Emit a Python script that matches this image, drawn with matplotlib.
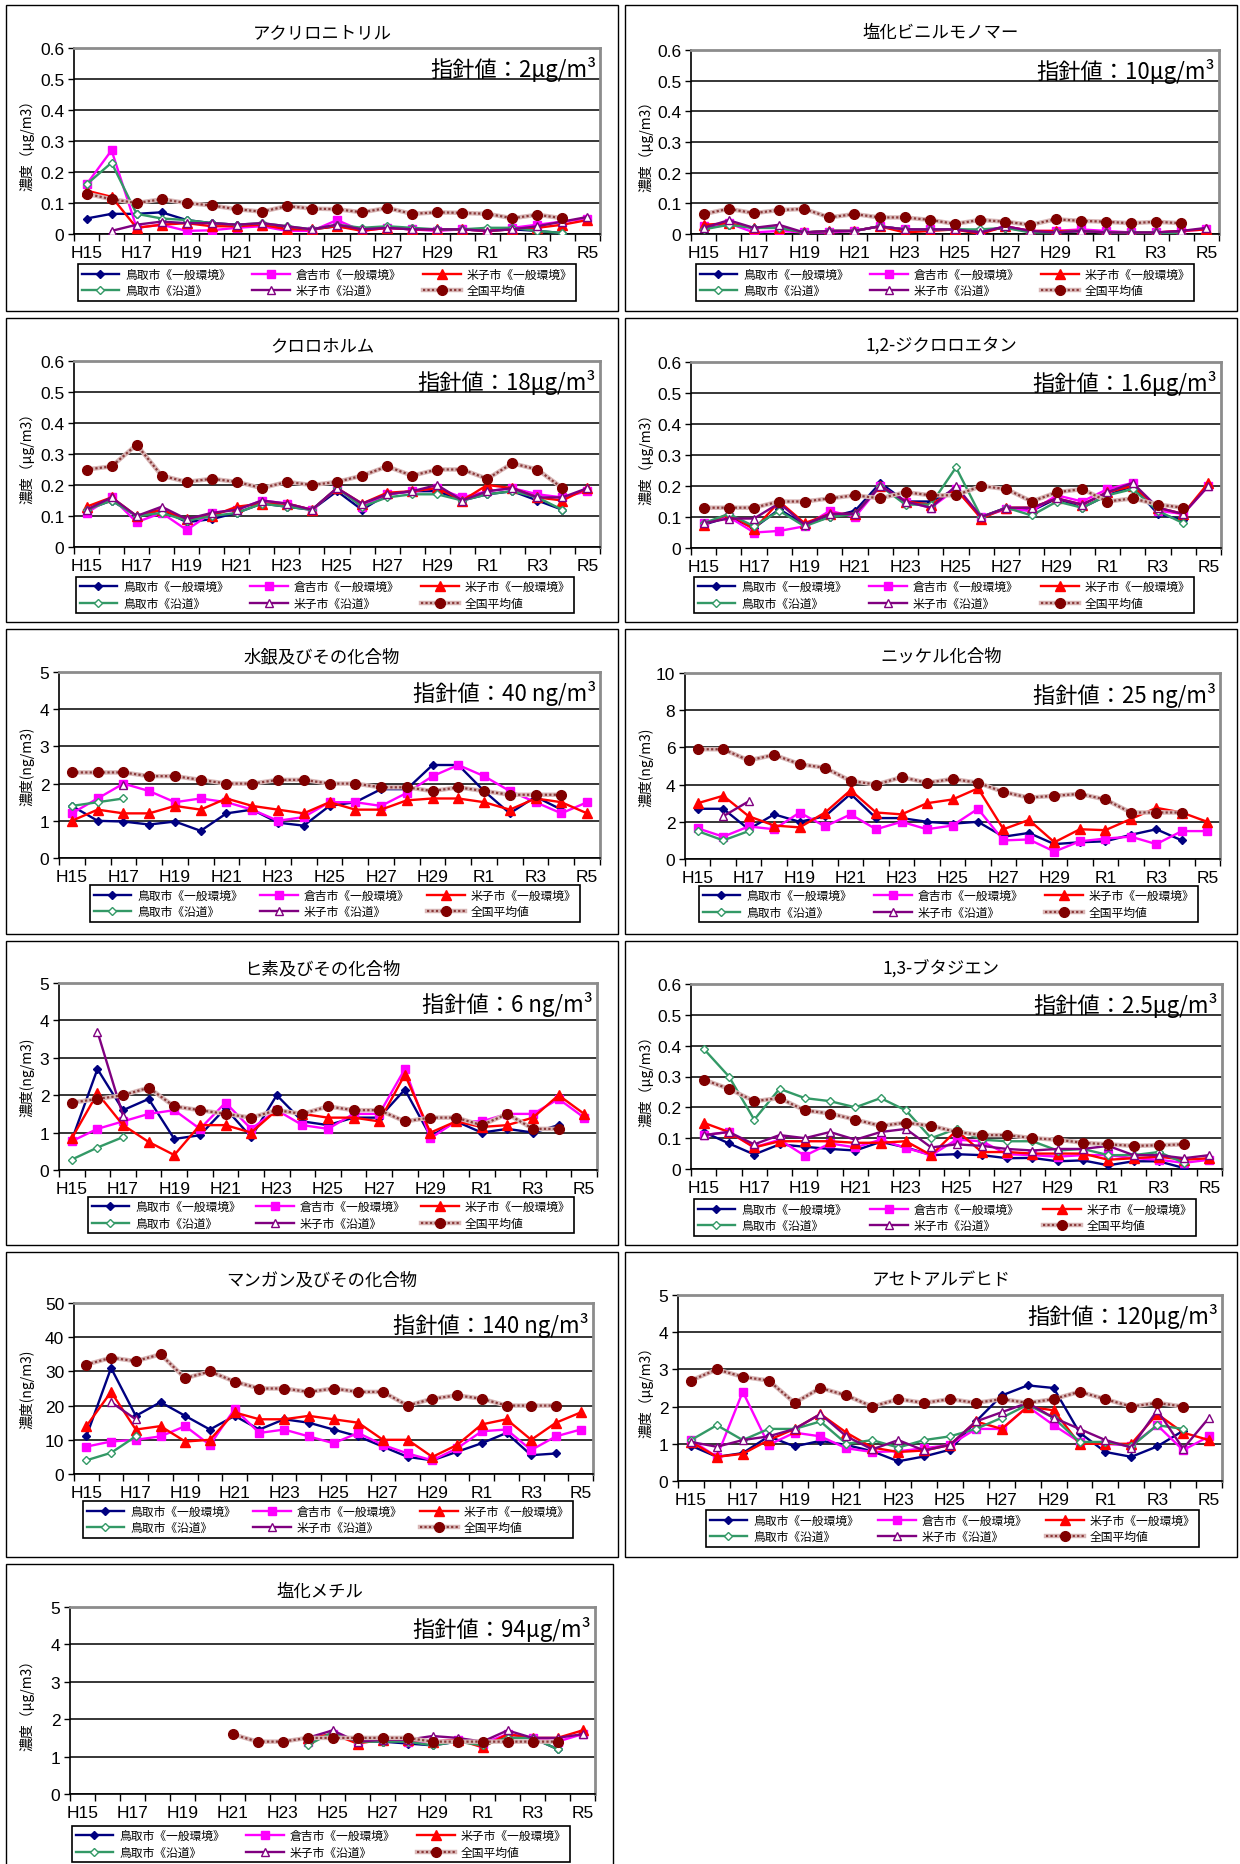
import matplotlib
matplotlib.use('Agg')
import matplotlib.pyplot as plt
from matplotlib.patches import Rectangle
import numpy as np

plt.rcParams['font.family'] = ['Noto Sans CJK JP', 'DejaVu Sans']

n = np.nan

years = ['H15', 'H16', 'H17', 'H18', 'H19', 'H20', 'H21', 'H22', 'H23', 'H24', 'H25',
         'H26', 'H27', 'H28', 'H29', 'H30', 'R1', 'R2', 'R3', 'R4', 'R5']
series_labels = ['鳥取市《一般環境》', '倉吉市《一般環境》', '米子市《一般環境》',
                 '鳥取市《沿道》', '米子市《沿道》', '全国平均値']

# order of rows in each table: 鳥取一般, 倉吉一般, 米子一般, 鳥取沿道, 米子沿道, 全国平均
acrylonitrile = [
    [0.05, 0.065, 0.065, 0.07, 0.045, 0.035, 0.03, 0.03, 0.02, 0.015, 0.025, 0.015, 0.02, 0.015, 0.015, 0.015, 0.01, 0.015, 0.01, 0.003, n],
    [0.16, 0.27, 0.02, 0.03, 0.01, 0.012, 0.02, 0.025, 0.01, 0.01, 0.045, 0.01, 0.02, 0.015, 0.01, 0.015, 0.01, 0.02, 0.03, 0.04, 0.05],
    [0.14, 0.12, 0.02, 0.03, 0.035, 0.025, 0.025, 0.03, 0.015, 0.015, 0.025, 0.01, 0.02, 0.015, 0.015, 0.015, 0.01, 0.015, 0.02, 0.03, 0.045],
    [0.16, 0.23, 0.065, 0.05, 0.045, 0.035, 0.03, 0.035, 0.025, 0.015, 0.03, 0.02, 0.025, 0.02, 0.015, 0.015, 0.02, 0.02, 0.01, 0.003, n],
    [n, 0.01, 0.03, 0.04, 0.035, 0.035, 0.03, 0.035, 0.025, 0.015, 0.03, 0.015, 0.02, 0.015, 0.015, 0.015, 0.01, 0.015, 0.025, 0.04, 0.055],
    [0.13, 0.112, 0.10, 0.112, 0.10, 0.092, 0.08, 0.072, 0.09, 0.082, 0.08, 0.07, 0.084, 0.065, 0.07, 0.068, 0.065, 0.051, 0.062, 0.051, n],
]
vinyl_chloride = [
    [0.02, 0.03, 0.02, 0.02, 0.005, 0.01, 0.01, 0.025, 0.015, 0.015, 0.015, 0.01, 0.02, 0.01, 0.005, 0.01, 0.005, 0.005, 0.005, 0.005, n],
    [0.025, 0.035, 0.005, 0.01, 0.005, 0.005, 0.01, 0.025, 0.015, 0.015, 0.015, 0.005, 0.025, 0.01, 0.01, 0.015, 0.01, 0.005, 0.005, 0.01, 0.015],
    [0.03, 0.035, 0.02, 0.02, 0.005, 0.01, 0.01, 0.025, 0.005, 0.01, 0.015, 0.0, 0.025, 0.01, 0.01, 0.01, 0.005, 0.005, 0.005, 0.01, 0.015],
    [0.015, 0.03, 0.02, 0.02, 0.005, 0.01, 0.01, 0.025, 0.015, 0.015, 0.015, 0.015, 0.02, 0.005, 0.005, 0.01, 0.005, 0.005, 0.005, 0.0, n],
    [0.02, 0.045, 0.02, 0.03, 0.005, 0.01, 0.01, 0.025, 0.015, 0.015, 0.015, 0.005, 0.025, 0.01, 0.005, 0.01, 0.005, 0.005, 0.005, 0.01, 0.02],
    [0.065, 0.082, 0.068, 0.078, 0.082, 0.054, 0.065, 0.054, 0.054, 0.046, 0.033, 0.046, 0.04, 0.03, 0.048, 0.043, 0.04, 0.035, 0.04, 0.035, n],
]
chloroform = [
    [0.12, 0.15, 0.10, 0.12, 0.08, 0.09, 0.11, 0.14, 0.13, 0.12, 0.18, 0.12, 0.17, 0.18, 0.18, 0.15, 0.17, 0.18, 0.15, 0.12, n],
    [0.11, 0.16, 0.08, 0.11, 0.055, 0.11, 0.12, 0.15, 0.14, 0.12, 0.19, 0.13, 0.17, 0.18, 0.19, 0.16, 0.18, 0.19, 0.17, 0.16, 0.18],
    [0.13, 0.16, 0.10, 0.12, 0.09, 0.10, 0.13, 0.14, 0.14, 0.12, 0.19, 0.14, 0.175, 0.18, 0.19, 0.15, 0.20, 0.19, 0.16, 0.15, 0.19],
    [0.12, 0.15, 0.10, 0.11, 0.085, 0.10, 0.11, 0.14, 0.13, 0.12, 0.19, 0.13, 0.16, 0.17, 0.17, 0.15, 0.17, 0.18, 0.16, 0.12, n],
    [0.12, 0.16, 0.10, 0.13, 0.09, 0.11, 0.12, 0.15, 0.14, 0.12, 0.19, 0.14, 0.17, 0.18, 0.20, 0.15, 0.18, 0.19, 0.16, 0.16, 0.19],
    [0.25, 0.26, 0.33, 0.23, 0.21, 0.22, 0.21, 0.19, 0.21, 0.20, 0.21, 0.23, 0.26, 0.23, 0.25, 0.25, 0.22, 0.27, 0.25, 0.19, n],
]
dichloroethane = [
    [0.075, 0.10, 0.065, 0.125, 0.075, 0.10, 0.12, 0.21, 0.15, 0.15, 0.19, 0.10, 0.13, 0.12, 0.16, 0.13, 0.17, 0.20, 0.11, 0.09, n],
    [0.08, 0.10, 0.05, 0.055, 0.07, 0.12, 0.10, 0.20, 0.15, 0.13, 0.19, 0.10, 0.125, 0.12, 0.17, 0.15, 0.19, 0.21, 0.12, 0.11, 0.20],
    [0.075, 0.11, 0.06, 0.15, 0.08, 0.11, 0.11, 0.20, 0.15, 0.14, 0.19, 0.095, 0.13, 0.13, 0.16, 0.14, 0.18, 0.20, 0.13, 0.11, 0.21],
    [0.08, 0.11, 0.07, 0.12, 0.07, 0.10, 0.11, 0.20, 0.14, 0.14, 0.26, 0.10, 0.13, 0.105, 0.15, 0.13, 0.17, 0.19, 0.12, 0.08, n],
    [0.08, 0.095, 0.095, 0.145, 0.075, 0.11, 0.11, 0.20, 0.15, 0.13, 0.20, 0.10, 0.13, 0.13, 0.16, 0.14, 0.18, 0.21, 0.13, 0.11, 0.20],
    [0.13, 0.13, 0.13, 0.15, 0.15, 0.16, 0.17, 0.16, 0.18, 0.17, 0.17, 0.20, 0.19, 0.15, 0.18, 0.19, 0.15, 0.16, 0.14, 0.13, n],
]
mercury = [
    [1.4, 1.0, 0.98, 0.9, 0.98, 0.73, 1.2, 1.3, 0.95, 0.87, 1.4, 1.5, 1.85, 1.85, 2.5, 2.5, 1.8, 1.2, 1.65, 1.3, n],
    [1.2, 1.6, 2.0, 1.8, 1.5, 1.6, 1.5, 1.3, 1.0, 1.1, 1.5, 1.5, 1.4, 1.75, 2.2, 2.5, 2.2, 1.8, 1.5, 1.2, 1.5],
    [1.0, 1.3, 1.2, 1.2, 1.4, 1.3, 1.6, 1.4, 1.3, 1.2, 1.5, 1.3, 1.3, 1.55, 1.6, 1.6, 1.5, 1.3, 1.6, 1.5, 1.2],
    [1.4, 1.5, 1.6, n, n, n, n, n, n, n, n, n, n, n, n, n, n, n, n, n, n],
    [n, n, 1.95, n, n, n, n, n, n, n, n, n, n, n, n, n, n, n, n, n, n],
    [2.3, 2.3, 2.3, 2.2, 2.2, 2.1, 2.0, 2.0, 2.1, 2.1, 2.0, 2.0, 1.9, 1.9, 1.8, 1.9, 1.8, 1.7, 1.7, 1.7, n],
]
nickel = [
    [2.7, 2.7, 1.6, 2.4, 2.0, 2.3, 3.5, 2.2, 2.2, 2.0, 1.9, 2.0, 1.2, 1.4, 0.8, 0.9, 0.95, 1.3, 1.6, 1.0, n],
    [1.65, 1.2, 1.75, 1.6, 2.5, 1.75, 2.4, 1.6, 2.0, 1.6, 1.8, 2.7, 1.0, 1.05, 0.4, 0.95, 1.1, 1.2, 0.8, 1.5, 1.5],
    [3.0, 3.4, 2.3, 1.8, 1.7, 2.5, 3.7, 2.5, 2.4, 3.0, 3.2, 3.8, 1.6, 2.1, 0.9, 1.6, 1.55, 2.15, 2.75, 2.5, 2.0],
    [1.5, 1.0, 1.5, n, n, n, n, n, n, n, n, n, n, n, n, n, n, n, n, n, n],
    [n, 2.3, 3.1, n, n, n, n, n, n, n, n, n, n, n, n, n, n, n, n, n, n],
    [5.9, 5.9, 5.3, 5.6, 5.1, 4.9, 4.2, 4.0, 4.4, 4.1, 4.3, 4.1, 3.6, 3.3, 3.4, 3.5, 3.2, 2.5, 2.5, 2.5, n],
]
arsenic = [
    [0.8, 2.7, 1.6, 1.9, 0.83, 0.93, 1.65, 0.88, 2.0, 1.3, 1.2, 1.4, 1.4, 2.15, 0.9, 1.3, 1.0, 1.1, 1.0, 1.2, n],
    [0.77, 1.1, 1.3, 1.5, 1.6, 1.1, 1.8, 1.1, 1.6, 1.2, 1.1, 1.5, 1.5, 2.7, 0.85, 1.3, 1.3, 1.5, 1.5, 1.9, 1.4],
    [0.85, 2.05, 1.2, 0.75, 0.4, 1.2, 1.2, 1.0, 1.6, 1.5, 1.4, 1.4, 1.3, 2.55, 1.0, 1.3, 1.15, 1.2, 1.4, 2.0, 1.5],
    [0.28, 0.6, 0.88, n, n, n, n, n, n, n, n, n, n, n, n, n, n, n, n, n, n],
    [n, 3.7, 1.45, n, n, n, n, n, n, n, n, n, n, n, n, n, n, n, n, n, n],
    [1.8, 1.9, 2.0, 2.2, 1.7, 1.6, 1.5, 1.4, 1.6, 1.5, 1.7, 1.6, 1.6, 1.3, 1.4, 1.4, 1.2, 1.5, 1.1, 1.1, n],
]
butadiene = [
    [0.12, 0.083, 0.047, 0.08, 0.072, 0.065, 0.06, 0.088, 0.07, 0.045, 0.048, 0.045, 0.035, 0.036, 0.025, 0.028, 0.012, 0.025, 0.025, 0.003, n],
    [0.11, 0.12, 0.07, 0.095, 0.043, 0.083, 0.07, 0.095, 0.068, 0.045, 0.095, 0.09, 0.048, 0.045, 0.04, 0.045, 0.045, 0.035, 0.03, 0.02, 0.03],
    [0.15, 0.12, 0.07, 0.09, 0.09, 0.09, 0.085, 0.085, 0.09, 0.045, 0.125, 0.055, 0.055, 0.05, 0.05, 0.05, 0.03, 0.035, 0.04, 0.03, 0.035],
    [0.39, 0.30, 0.16, 0.26, 0.23, 0.22, 0.20, 0.23, 0.19, 0.10, 0.13, 0.095, 0.09, 0.09, 0.06, 0.065, 0.045, 0.045, 0.055, 0.02, n],
    [0.11, 0.12, 0.08, 0.11, 0.10, 0.12, 0.095, 0.12, 0.13, 0.07, 0.08, 0.075, 0.065, 0.06, 0.065, 0.065, 0.075, 0.045, 0.045, 0.035, 0.045],
    [0.29, 0.26, 0.22, 0.23, 0.19, 0.18, 0.16, 0.14, 0.15, 0.14, 0.12, 0.11, 0.11, 0.10, 0.095, 0.085, 0.08, 0.075, 0.077, 0.08, n],
]
manganese = [
    [11, 31, 17, 21, 17, 13, 17, 13, 16, 15, 13, 11, 8, 5, 4, 6.5, 9, 12, 5.5, 6, n],
    [8, 9.5, 10, 11, 14, 8.5, 19, 12, 13, 11, 9, 12, 8.5, 6, 4, 7.5, 12.5, 13, 7, 11, 13],
    [14, 24, 13, 14, 9.5, 10, 18, 16, 16, 17, 16, 15, 10, 10, 5, 8.5, 14.5, 16, 10, 15, 18],
    [4, 6.2, 11, n, n, n, n, n, n, n, n, n, n, n, n, n, n, n, n, n, n],
    [n, 21, 16, n, n, n, n, n, n, n, n, n, n, n, n, n, n, n, n, n, n],
    [32, 34, 33, 35, 28, 30, 27, 25, 25, 24, 25, 24, 24, 20, 22, 23, 22, 20, 20, 20, n],
]
acetaldehyde = [
    [0.95, 0.65, 0.75, 1.2, 0.93, 1.08, 0.97, 0.8, 0.53, 0.66, 0.84, 1.6, 2.3, 2.57, 2.5, 1.3, 0.78, 0.65, 0.93, 1.35, n],
    [1.1, 0.65, 2.4, 0.97, 1.3, 1.2, 0.88, 0.78, 0.8, 0.88, 0.97, 1.4, 1.4, 2.0, 1.5, 1.05, 1.0, 0.95, 1.5, 0.83, 1.2],
    [1.05, 0.65, 0.73, 1.1, 1.4, 1.8, 1.3, 0.9, 0.78, 0.82, 0.97, 1.6, 1.4, 2.0, 1.9, 1.0, 1.0, 1.0, 1.8, 1.3, 1.1],
    [1.1, 1.5, 1.1, 1.4, 1.4, 1.6, 1.0, 1.1, 0.9, 1.1, 1.2, 1.4, 1.7, 2.05, 1.7, 1.05, 1.05, 0.93, 1.5, 1.4, n],
    [1.05, 0.92, 1.1, 1.2, 1.4, 1.8, 1.2, 0.85, 1.1, 0.82, 0.97, 1.6, 1.85, 2.1, 1.7, 1.4, 1.1, 0.9, 1.9, 0.87, 1.7],
    [2.7, 3.0, 2.8, 2.7, 2.1, 2.5, 2.3, 2.0, 2.2, 2.1, 2.2, 2.1, 2.2, 2.1, 2.2, 2.4, 2.2, 2.0, 2.1, 2.0, n],
]
methyl_chloride = [
    [n, n, n, n, n, n, n, n, n, 1.4, 1.6, 1.4, 1.4, 1.35, 1.3, 1.4, 1.35, 1.5, 1.5, 1.2, n],
    [n, n, n, n, n, n, n, n, n, 1.4, 1.6, 1.4, 1.45, 1.4, 1.4, 1.45, 1.35, 1.6, 1.5, 1.4, 1.6],
    [n, n, n, n, n, n, n, n, n, 1.5, 1.6, 1.35, 1.45, 1.45, 1.4, 1.45, 1.25, 1.6, 1.5, 1.5, 1.7],
    [n, n, n, n, n, n, n, n, n, 1.3, 1.65, 1.4, 1.4, 1.4, 1.3, 1.4, 1.3, 1.5, 1.5, 1.2, n],
    [n, n, n, n, n, n, n, n, n, 1.5, 1.7, 1.4, 1.45, 1.45, 1.55, 1.5, 1.4, 1.7, 1.5, 1.5, 1.6],
    [n, n, n, n, n, n, 1.6, 1.4, 1.4, 1.5, 1.5, 1.5, 1.5, 1.5, 1.4, 1.4, 1.4, 1.4, 1.4, 1.4, n],
]

UG = '濃度（μg/m3）'
NG = '濃度(ng/m3)'

# title, data, ymax, ystep, guide text, ylabel, panel box, plot area, legend area (pixels)
panels = [
    ('アクリロニトリル', acrylonitrile, 0.6, 0.1, '指針値：2μg/m³', UG,
     (6, 6, 618, 312), (74, 49, 600, 235), (78, 265, 576, 302)),
    ('塩化ビニルモノマー', vinyl_chloride, 0.6, 0.1, '指針値：10μg/m³', UG,
     (625, 6, 1237, 312), (691, 51, 1219, 235), (696, 265, 1194, 302)),
    ('クロロホルム', chloroform, 0.6, 0.1, '指針値：18μg/m³', UG,
     (6, 319, 618, 623), (74, 362, 600, 548), (76, 578, 574, 614)),
    ('1,2-ジクロロエタン', dichloroethane, 0.6, 0.1, '指針値：1.6μg/m³', UG,
     (625, 319, 1237, 623), (691, 363, 1221, 549), (694, 578, 1194, 614)),
    ('水銀及びその化合物', mercury, 5, 1, '指針値：40 ng/m³', NG,
     (6, 630, 618, 935), (59, 673, 600, 859), (90, 886, 580, 923)),
    ('ニッケル化合物', nickel, 10, 2, '指針値：25 ng/m³', NG,
     (625, 630, 1237, 935), (685, 674, 1220, 860), (699, 886, 1198, 924)),
    ('ヒ素及びその化合物', arsenic, 5, 1, '指針値：6 ng/m³', NG,
     (6, 942, 618, 1246), (59, 984, 597, 1171), (88, 1197, 574, 1235)),
    ('1,3-ブタジエン', butadiene, 0.6, 0.1, '指針値：2.5μg/m³', UG,
     (625, 942, 1237, 1246), (691, 985, 1222, 1170), (694, 1200, 1196, 1237)),
    ('マンガン及びその化合物', manganese, 50, 10, '指針値：140 ng/m³', NG,
     (6, 1253, 618, 1558), (74, 1304, 593, 1475), (83, 1501, 573, 1540)),
    ('アセトアルデヒド', acetaldehyde, 5, 1, '指針値：120μg/m³', UG,
     (625, 1253, 1237, 1558), (678, 1296, 1222, 1482), (706, 1510, 1199, 1549)),
    ('塩化メチル', methyl_chloride, 5, 1, '指針値：94μg/m³', UG,
     (6, 1565, 613, 1875), (70, 1608, 595, 1795), (72, 1827, 570, 1863)),
]

styles = [
    dict(color='#000080', marker='D', ms=4.5, mfc='#000080', mec='#000080'),
    dict(color='#FF00FF', marker='s', ms=6, mfc='#FF00FF', mec='#FF00FF'),
    dict(color='#FF0000', marker='^', ms=6.5, mfc='#FF0000', mec='#FF0000'),
    dict(color='#339966', marker='D', ms=4.5, mfc='white', mec='#339966'),
    dict(color='#800080', marker='^', ms=6, mfc='white', mec='#800080'),
]

W, H = 1240, 1865
fig = plt.figure(figsize=(W / 100, H / 100), dpi=100)
fig.patch.set_facecolor('white')


def fx(x):
    return x / W


def fy(y):
    return 1 - y / H


x = np.arange(len(years))

for title, data, ymax, ystep, guide, ylabel, box, plot, leg in panels:
    bl, bt, br, bb = box
    fig.add_artist(Rectangle((fx(bl), fy(bb)), fx(br - bl), (bb - bt) / H,
                             transform=fig.transFigure, fill=False, ec='black', lw=1))
    pl, pt, pr, pb = plot
    ax = fig.add_axes([fx(pl), fy(pb), fx(pr - pl), (pb - pt) / H])

    handles = []
    for vals, st in zip(data[:5], styles):
        h, = ax.plot(x, vals, lw=1.7, mew=1.0, **st, zorder=3)
        handles.append(h)
    nat = data[5]
    base, = ax.plot(x, nat, color='#d9b8b8', lw=3.2, zorder=3)
    top, = ax.plot(x, nat, color='#8a3a3a', lw=1.6, dashes=(1, 1), marker='o', ms=7,
                   mfc='#800000', mec='#800000', zorder=4)
    handles.append((base, top))

    ax.set_xlim(-0.5, len(years) - 0.5)
    ax.set_ylim(0, ymax)
    yt = np.arange(0, ymax + ystep / 2, ystep)
    ax.set_yticks(yt)
    ax.set_yticklabels([f'{v:g}' for v in yt], fontsize=12.5, family='Liberation Sans')
    ax.set_xticks(x[::2])
    ax.set_xticklabels(years[::2], fontsize=12.5, family='Liberation Sans')
    ax.set_xticks(np.arange(-0.5, len(years)), minor=True)
    ax.tick_params(axis='x', which='major', length=0, pad=8)
    ax.tick_params(axis='x', which='minor', length=5, width=1, direction='out')
    ax.tick_params(axis='y', length=4, width=1, direction='out', pad=3)
    ax.yaxis.grid(True, color='black', lw=1.1)
    ax.set_axisbelow(True)
    for s in ('top', 'right'):
        ax.spines[s].set_color('#8c8c8c')
        ax.spines[s].set_linewidth(2)
    for s in ('left', 'bottom'):
        ax.spines[s].set_color('black')
        ax.spines[s].set_linewidth(1.2)

    fig.text(fx((bl + br) / 2 + 10), fy(bt + 27), title, ha='center', va='center', fontsize=12.5)
    fig.text(fx(pr - 4), fy(pt + 21), guide, ha='right', va='center', fontsize=16)
    fig.text(fx(bl + 21), fy((pt + pb) / 2), ylabel, ha='center', va='center',
             rotation=90, fontsize=10)

    order = [0, 3, 1, 4, 2, 5]
    ll, lt, lr, lb = leg
    lg = ax.legend([handles[i] for i in order], [series_labels[i] for i in order],
                   ncol=3, loc='center', mode='expand',
                   bbox_to_anchor=(fx(ll), fy(lb), fx(lr - ll), (lb - lt) / H),
                   bbox_transform=fig.transFigure, fontsize=8.5, handlelength=3.2,
                   handletextpad=0.5, columnspacing=1.0, borderaxespad=0,
                   borderpad=0.3, labelspacing=0.3, fancybox=False, framealpha=1,
                   edgecolor='black')
    lg.get_frame().set_linewidth(1.2)

fig.savefig('out.png', dpi=100)
